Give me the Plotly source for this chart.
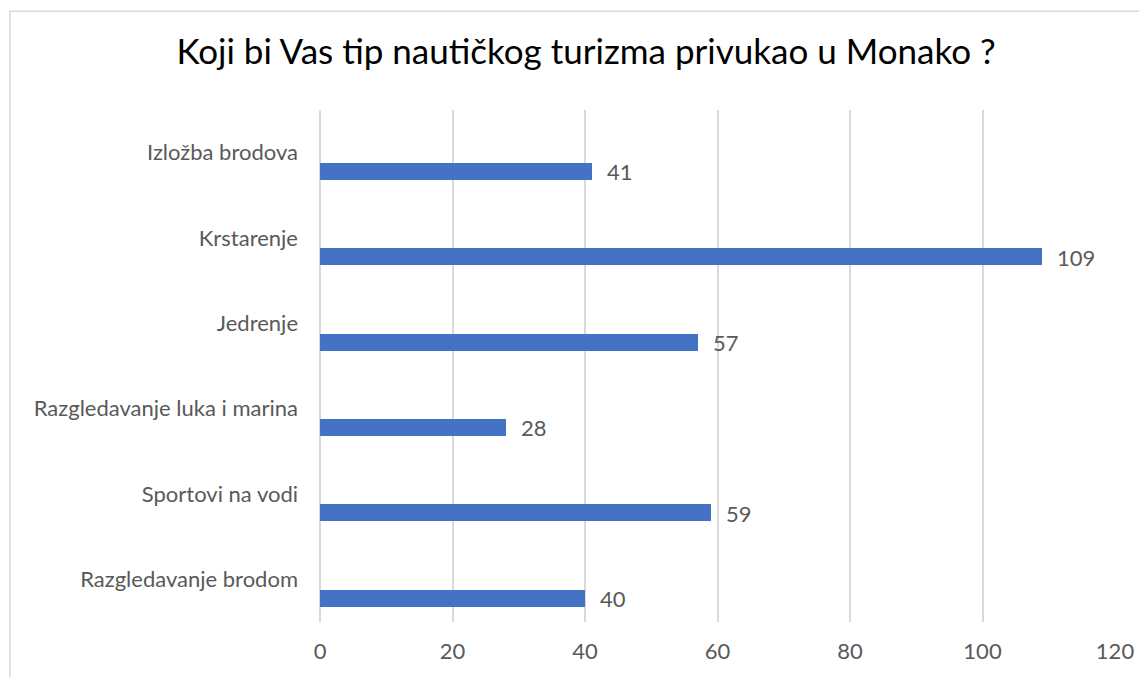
import plotly.graph_objects as go

# chart data, top to bottom as in the picture
categories = [
    "Izložba brodova",
    "Krstarenje",
    "Jedrenje",
    "Razgledavanje luka i marina",
    "Sportovi na vodi",
    "Razgledavanje brodom",
]
counts = [41, 109, 57, 28, 59, 40]
x_ticks = [0, 20, 40, 60, 80, 100, 120]

BAR_COLOR = "#4472C4"
GRID = "#D9D9D9"
TEXT_GRAY = "#595959"
FONT = "Lato"

# page body has an 8px margin, so the figure is a bit smaller than the window
W, H = 1139, 669

fig = go.Figure()
fig.add_trace(go.Bar(
    x=counts,
    y=categories,
    orientation="h",
    marker_color=BAR_COLOR,
    marker_line_width=0,
    width=0.2,
    offset=0.12,
    hoverinfo="x+y",
))

# value labels to the right of each bar
for cat, val in zip(categories, counts):
    fig.add_annotation(
        x=val, y=cat, text=str(val), showarrow=False,
        xanchor="left", yanchor="middle", xshift=13, yshift=-19,
        font=dict(family=FONT, size=22, color=TEXT_GRAY),
    )

# outer chart frame (cut off on right and bottom like the screenshot)
fig.add_shape(
    type="rect", xref="paper", yref="paper",
    x0=-0.39, x1=1.2, y0=-0.3, y1=1.193,
    line=dict(color=GRID, width=1.5), fillcolor="rgba(0,0,0,0)", layer="below",
)

fig.update_layout(
    width=W,
    height=H,
    margin=dict(l=312, r=32, t=102, b=55),
    paper_bgcolor="white",
    plot_bgcolor="white",
    showlegend=False,
    bargap=0,
    title=dict(
        text="Koji bi Vas tip nautičkog turizma privukao u Monako ?",
        x=0.5075, xref="container", xanchor="center",
        y=0.934, yref="container", yanchor="middle",
        font=dict(family=FONT, size=35, color="#000000"),
    ),
    font=dict(family=FONT, size=22, color=TEXT_GRAY),
)
fig.update_xaxes(
    range=[0, 120],
    tickvals=x_ticks,
    showgrid=True, gridcolor=GRID, gridwidth=1.5,
    zeroline=True, zerolinecolor=GRID, zerolinewidth=1.5,
    showline=False, ticks="",
    tickfont=dict(family=FONT, size=22, color=TEXT_GRAY),
    ticklabelstandoff=14,
    fixedrange=True,
)
fig.update_yaxes(
    autorange="reversed",
    showgrid=False, zeroline=False, showline=False, ticks="",
    tickfont=dict(family=FONT, size=22, color=TEXT_GRAY),
    ticklabelstandoff=21,
    fixedrange=True,
)

fig.write_html("out.html", config={"displayModeBar": False})
